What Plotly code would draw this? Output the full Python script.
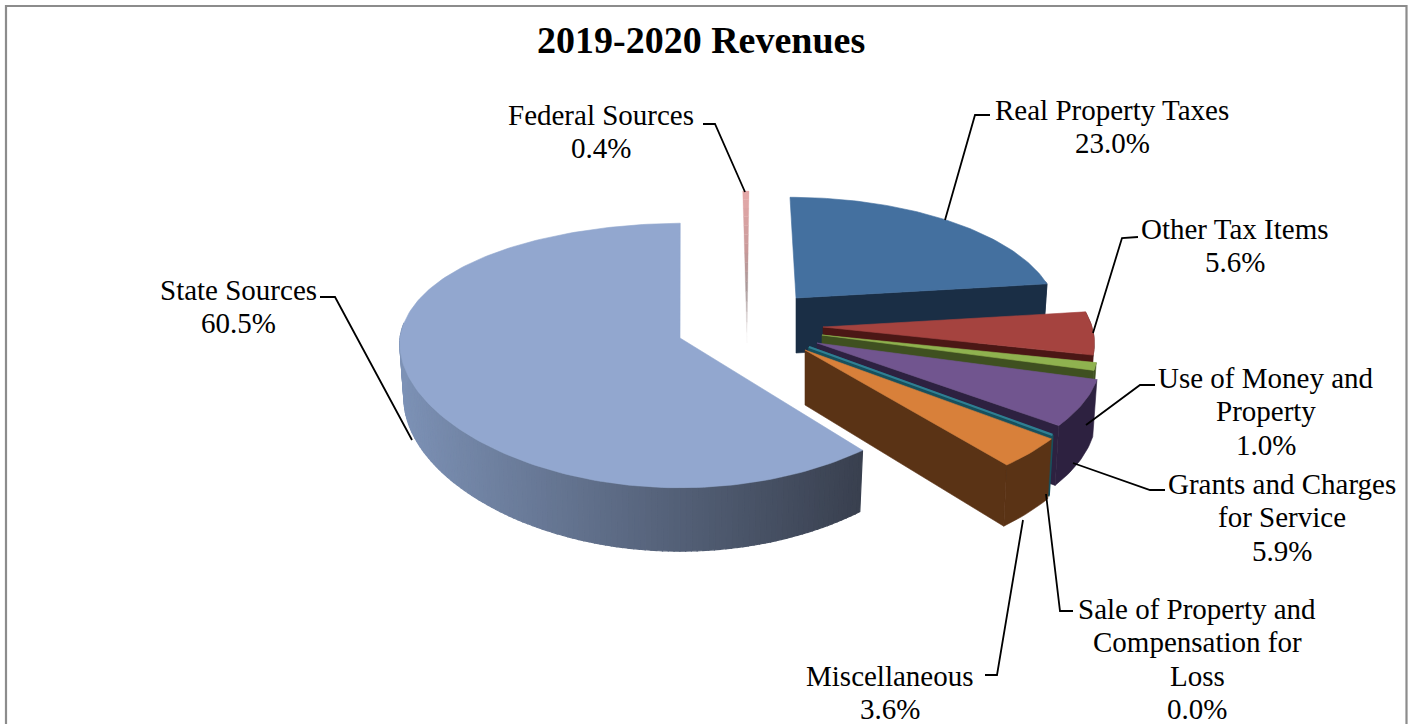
import math
import plotly.graph_objects as go

# ---- data ----
categories = ["Real Property Taxes", "Other Tax Items", "Use of Money and Property",
              "Grants and Charges for Service", "Sale of Property and Compensation for Loss",
              "Miscellaneous", "State Sources", "Federal Sources"]
values = [23.0, 5.6, 1.0, 5.9, 0.05, 3.6, 60.5, 0.4]
value_labels = ["23.0%", "5.6%", "1.0%", "5.9%", "0.0%", "3.6%", "60.5%", "0.4%"]
title_text = "2019-2020 Revenues"

# ---- style: one entry per slice (exploded position in the 3-D view) ----
top_colors = ["#44709f", "#a5433f", "#8fb24f", "#71558f", "#2f7f92", "#d8803a", "#92a7cf", "#e6a9a8"]
wall_colors = ["#1a2e45", "#4b1715", "#3f5020", "#2d2140", "#17505d", "#5a3315", None, "#b09a9a"]
apex_x = [796, 823, 822, 817, 809, 805, 680, 747]
apex_y = [298, 327, 335, 343, 347, 350, 338, 343]
radius_x = [258, 269, 273, 281, 283, 287, 280, 250]
radius_y = [114, 122, 120, 124, 132, 133, 130, 172]
skew = [-6, 0, 0, 0, 0, 0, 7, 2]
x_perspective = [1, 1, 1, 1, 1, 1, 0.3, 0]
draw_order = [7, 6, 0, 1, 2, 3, 4, 5]

PERSPECTIVE = 0.132
THICKNESS = 55
FLOOR_NARROW = 0.985
FONT = "Liberation Serif"
LABEL_SIZE = 29


def project(i, ang, r=1.0, floor=False):
    u, v = math.sin(ang) * r, math.cos(ang) * r
    s = 1 / (1 + PERSPECTIVE * v)
    a = radius_x[i] * (FLOOR_NARROW if floor else 1)
    x = apex_x[i] + a * u * s ** x_perspective[i] + skew[i] * max(v, 0)
    y = apex_y[i] - radius_y[i] * v * s
    if floor:
        y += THICKNESS * s
    return x, y


def mix(c1, c2, t):
    a = [int(c1[k:k + 2], 16) for k in (1, 3, 5)]
    b = [int(c2[k:k + 2], 16) for k in (1, 3, 5)]
    return "#%02x%02x%02x" % tuple(round(p + (q - p) * t) for p, q in zip(a, b))


def poly(fig, pts, color, lw=0.6):
    fig.add_trace(go.Scatter(x=[p[0] for p in pts] + [pts[0][0]], y=[p[1] for p in pts] + [pts[0][1]],
                             mode="lines", fill="toself", fillcolor=color,
                             line=dict(color=color, width=lw), hoverinfo="skip", showlegend=False))


total = sum(values)
starts, ends, cum = [], [], 0.0
for val in values:
    starts.append(cum / total * 2 * math.pi)
    cum += val
    ends.append(cum / total * 2 * math.pi)

fig = go.Figure()
for i in draw_order:
    a0, a1 = starts[i], ends[i]
    steps = max(3, int((a1 - a0) / 0.02))
    angs = [a0 + (a1 - a0) * k / steps for k in range(steps + 1)]
    lw = 2.2 if categories[i].startswith("Sale") else 0.6
    if wall_colors[i] is None:
        # curved wall with a left-to-right shade
        for k in range(steps):
            m = (angs[k] + angs[k + 1]) / 2
            if math.cos(m) > 0.12:
                continue
            t = (1 - math.sin(m)) / 2          # 0 at the right, 1 at the left
            c = mix("#39404f", "#7d92b6", min(1, max(0, (t - 0.19) / 0.81)))
            poly(fig, [project(i, angs[k]), project(i, angs[k + 1]),
                       project(i, angs[k + 1], floor=True), project(i, angs[k], floor=True)], c, 1.2)
    elif not categories[i].startswith("Federal"):
        apex_top, apex_floor = project(i, a1, 0), project(i, a1, 0, floor=True)
        poly(fig, [apex_top, project(i, a1), project(i, a1, floor=True), apex_floor], wall_colors[i], lw)
        front = [g for g in angs if math.cos(g) < 0.15]
        if len(front) > 1:
            poly(fig, [project(i, g) for g in front] + [project(i, g, floor=True) for g in reversed(front)],
                 wall_colors[i], lw)
    if categories[i].startswith("Federal"):
        # thin sliver fades out toward the centre
        n = 16
        for k in range(n):
            r0, r1 = k / n, (k + 1) / n
            if r0 < 0.3:
                c = mix("#f0eded", "#a89898", r0 / 0.3)
            elif r0 < 0.55:
                c = mix("#a89898", "#c99a9a", (r0 - 0.3) / 0.25)
            else:
                c = mix("#c99a9a", "#e8aaaa", (r0 - 0.55) / 0.45)
            poly(fig, [project(i, a0, r0), project(i, a0, r1), project(i, a1, r1), project(i, a1, r0)], c, 0.3)
    else:
        poly(fig, [project(i, 0, 0)] + [project(i, g) for g in angs], top_colors[i], lw)

# leader lines
leaders = {
    "Real Property Taxes": [(990, 115), (975, 115), (945, 220)],
    "Other Tax Items": [(1138, 237), (1122, 238), (1093, 333)],
    "Use of Money and Property": [(1155, 385), (1140, 385), (1086, 425)],
    "Grants and Charges for Service": [(1165, 490), (1150, 490), (1073, 463)],
    "Sale of Property and Compensation for Loss": [(1073, 611), (1060, 611), (1046, 494)],
    "Miscellaneous": [(985, 675), (997, 675), (1023, 520)],
    "State Sources": [(320, 297), (335, 297), (412, 440)],
    "Federal Sources": [(703, 124), (715, 124), (745, 192)],
}
for pts in leaders.values():
    fig.add_trace(go.Scatter(x=[p[0] for p in pts], y=[p[1] for p in pts], mode="lines",
                             line=dict(color="black", width=1.8), hoverinfo="skip", showlegend=False))

# label text: lines, centre x, first-line centre y
label_lines = {
    "Real Property Taxes": (["Real Property Taxes"], 1112, 110),
    "Other Tax Items": (["Other Tax Items"], 1235, 229),
    "Use of Money and Property": (["Use of Money and", "Property"], 1266, 378),
    "Grants and Charges for Service": (["Grants and Charges", "for Service"], 1282, 484),
    "Sale of Property and Compensation for Loss": (["Sale of Property and", "Compensation for", "Loss"], 1197, 609),
    "Miscellaneous": (["Miscellaneous"], 890, 675.6),
    "State Sources": (["State Sources"], 238, 290),
    "Federal Sources": (["Federal Sources"], 601, 115),
}
LINE_GAP = 33.4
annotations = []
for name, val in zip(categories, value_labels):
    lines, cx, cy = label_lines[name]
    for n, txt in enumerate(lines + [val]):
        annotations.append(dict(x=cx, y=cy + n * LINE_GAP, text=txt, showarrow=False, xanchor="center",
                                yanchor="middle", align="center",
                                font=dict(family=FONT, size=LABEL_SIZE, color="black")))
annotations.append(dict(x=701, y=40, text=f"<b>{title_text}</b>", showarrow=False, xanchor="center",
                        yanchor="middle", font=dict(family=FONT, size=38, color="black")))

fig.update_layout(
    width=1415, height=724, margin=dict(l=0, r=0, t=0, b=0), autosize=False,
    paper_bgcolor="white", plot_bgcolor="white", showlegend=False,
    xaxis=dict(range=[0, 1415], visible=False, fixedrange=True),
    yaxis=dict(range=[724, 0], visible=False, fixedrange=True),
    annotations=annotations,
    shapes=[dict(type="rect", x0=6, y0=6, x1=1406.5, y1=740, line=dict(color="#8c8c8c", width=2.2),
                 fillcolor="rgba(0,0,0,0)")],
)
fig.write_html("out.html", config={"displayModeBar": False},
               post_script="document.body.style.margin='0';document.documentElement.style.overflow='hidden';")
